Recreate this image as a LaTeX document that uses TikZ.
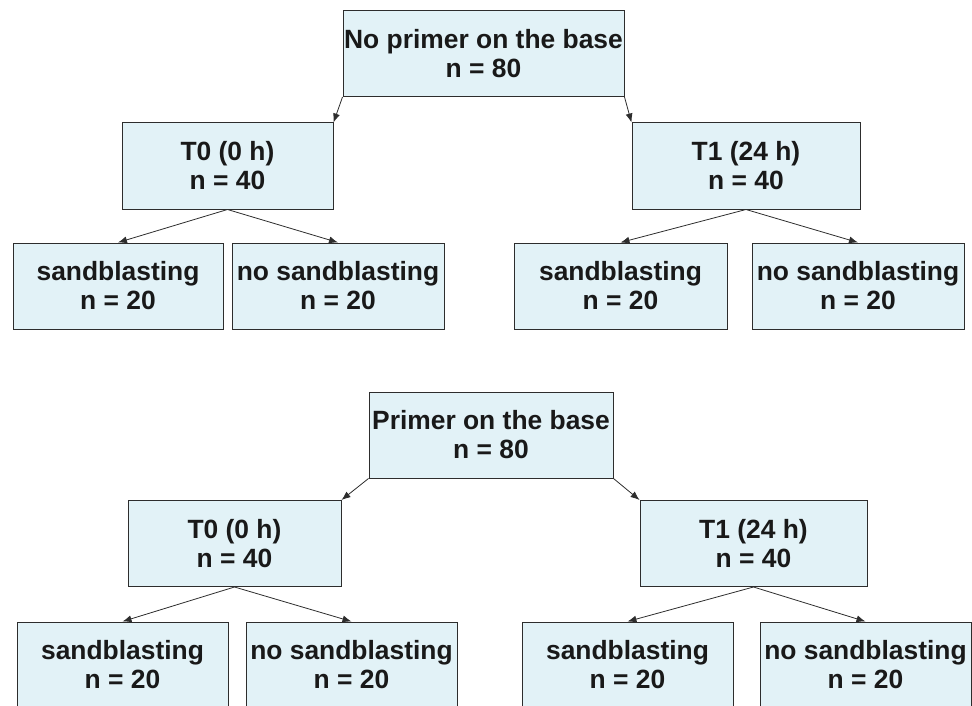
\documentclass[tikz,border=0pt]{standalone}
\usepackage{fontspec}
\setmainfont{Liberation Sans}
\usetikzlibrary{arrows.meta,positioning}
\definecolor{boxfill}{RGB}{226,242,247}
\definecolor{boxline}{RGB}{45,45,45}
\definecolor{txt}{RGB}{25,25,25}

\begin{document}
\begin{tikzpicture}[x=1pt,y=-1pt,
  grp/.style={draw=boxline,line width=1pt,fill=boxfill,text=txt,inner sep=0pt,
    minimum height=86pt,align=center,
    font=\bfseries\fontsize{26.4}{29}\selectfont},
  link/.style={draw=boxline,line width=0.8pt,-{Latex[length=9pt,width=7pt]}}]
\useasboundingbox (0,0) rectangle (972,706);
% no primer on the base
\node[grp,minimum width=281pt] (rootA) at (483.5,53.5) {No primer on the base\\n = 80};
\node[grp,minimum width=211pt] (t0A) at (227.5,166) {T0 (0 h)\\n = 40};
\node[grp,minimum width=228pt] (t1A) at (746,166) {T1 (24 h)\\n = 40};
\node[grp,minimum width=210pt] (sbA) at (118,286) {sandblasting\\n = 20};
\node[grp,minimum width=212pt] (nsbA) at (338,286) {no sandblasting\\n = 20};
\node[grp,minimum width=213pt] (sbB) at (620.5,286) {sandblasting\\n = 20};
\node[grp,minimum width=212pt] (nsbB) at (858,286) {no sandblasting\\n = 20};
\draw[link] (rootA.south west) -- (t0A.north east);
\draw[link] (rootA.south east) -- (t1A.north west);
\draw[link] (t0A.south) -- (sbA.north);
\draw[link] (t0A.south) -- (nsbA.north);
\draw[link] (t1A.south) -- (sbB.north);
\draw[link] (t1A.south) -- (nsbB.north);
% primer on the base
\node[grp,minimum width=244pt] (rootB) at (491,435) {Primer on the base\\n = 80};
\node[grp,minimum width=213pt] (t0B) at (234.5,543.5) {T0 (0 h)\\n = 40};
\node[grp,minimum width=227pt] (t1B) at (753.5,543.5) {T1 (24 h)\\n = 40};
\node[grp,minimum width=211pt] (sbC) at (122.5,665) {sandblasting\\n = 20};
\node[grp,minimum width=211pt] (nsbC) at (351.5,665) {no sandblasting\\n = 20};
\node[grp,minimum width=211pt] (sbD) at (627.5,665) {sandblasting\\n = 20};
\node[grp,minimum width=211pt] (nsbD) at (865.5,665) {no sandblasting\\n = 20};
\draw[link] (rootB.south west) -- (t0B.north east);
\draw[link] (rootB.south east) -- (t1B.north west);
\draw[link] (t0B.south) -- (sbC.north);
\draw[link] (t0B.south) -- (nsbC.north);
\draw[link] (t1B.south) -- (sbD.north);
\draw[link] (t1B.south) -- (nsbD.north);
\end{tikzpicture}
\end{document}
